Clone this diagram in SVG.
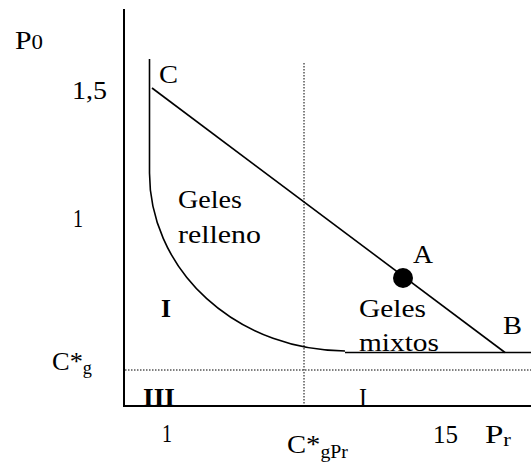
<svg xmlns="http://www.w3.org/2000/svg" width="531" height="469" viewBox="0 0 531 469">
<style>
text{font-family:"Liberation Serif","Times New Roman",serif;font-size:26px;fill:#000}
.b{font-weight:bold}
.ln{stroke:#000;stroke-width:1.6;fill:none}
.ax{stroke:#000;stroke-width:2;fill:none}
.dot{stroke:#000;stroke-width:1;stroke-dasharray:1.5 1.5;fill:none}
.sub{font-size:18px}
</style>
<rect width="531" height="469" fill="#fff"/>
<g id="axes">
<line class="ax" x1="124" y1="9" x2="124" y2="407"/>
<line class="ax" x1="123" y1="406" x2="531" y2="406"/>
</g>
<g id="connectors">
<line class="dot" x1="304" y1="63" x2="304" y2="406"/>
<line class="dot" x1="125" y1="370" x2="531" y2="370"/>
<line class="ln" x1="149.5" y1="59" x2="149.5" y2="173"/>
<path class="ln" d="M149.5,173 A196,178 0 0 0 345,351"/>
<line class="ln" x1="345" y1="352.5" x2="531" y2="352.5"/>
<line class="ln" x1="152" y1="88" x2="505" y2="352.5"/>
</g>
<g id="nodeA"><circle cx="403" cy="278" r="10" fill="#000"/><text x="413" y="263" textLength="20" lengthAdjust="spacingAndGlyphs">A</text></g>
<g id="nodeB"><text x="503" y="334" textLength="19" lengthAdjust="spacingAndGlyphs">B</text></g>
<g id="nodeC"><text x="159" y="83" textLength="19" lengthAdjust="spacingAndGlyphs">C</text></g>
<g id="labels">
<text x="15" y="49" textLength="28" lengthAdjust="spacingAndGlyphs">P<tspan font-size="20">0</tspan></text>
<text x="72" y="99" textLength="35" lengthAdjust="spacingAndGlyphs">1,5</text>
<text x="73" y="227" textLength="10" lengthAdjust="spacingAndGlyphs">1</text>
<text x="178" y="208" textLength="64" lengthAdjust="spacingAndGlyphs">Geles</text>
<text x="178" y="243" textLength="83" lengthAdjust="spacingAndGlyphs">relleno</text>
<text class="b" x="161" y="317" textLength="10" lengthAdjust="spacingAndGlyphs">I</text>
<text x="52" y="370" textLength="40" lengthAdjust="spacingAndGlyphs">C*<tspan class="sub" dy="4">g</tspan></text>
<text class="b" x="143" y="406" textLength="32" lengthAdjust="spacingAndGlyphs">III</text>
<text x="162" y="442" textLength="10" lengthAdjust="spacingAndGlyphs">1</text>
<text x="359" y="317" textLength="67" lengthAdjust="spacingAndGlyphs">Geles</text>
<text x="359" y="351" textLength="80" lengthAdjust="spacingAndGlyphs">mixtos</text>
<text x="359" y="406" textLength="8" lengthAdjust="spacingAndGlyphs">I</text>
<text x="433" y="443" textLength="25" lengthAdjust="spacingAndGlyphs">15</text>
<text x="485" y="443" textLength="26" lengthAdjust="spacingAndGlyphs">P<tspan class="sub" dy="3">r</tspan></text>
<text x="287" y="453" textLength="61" lengthAdjust="spacingAndGlyphs">C*<tspan class="sub" dy="5">gPr</tspan></text>
</g>
</svg>
